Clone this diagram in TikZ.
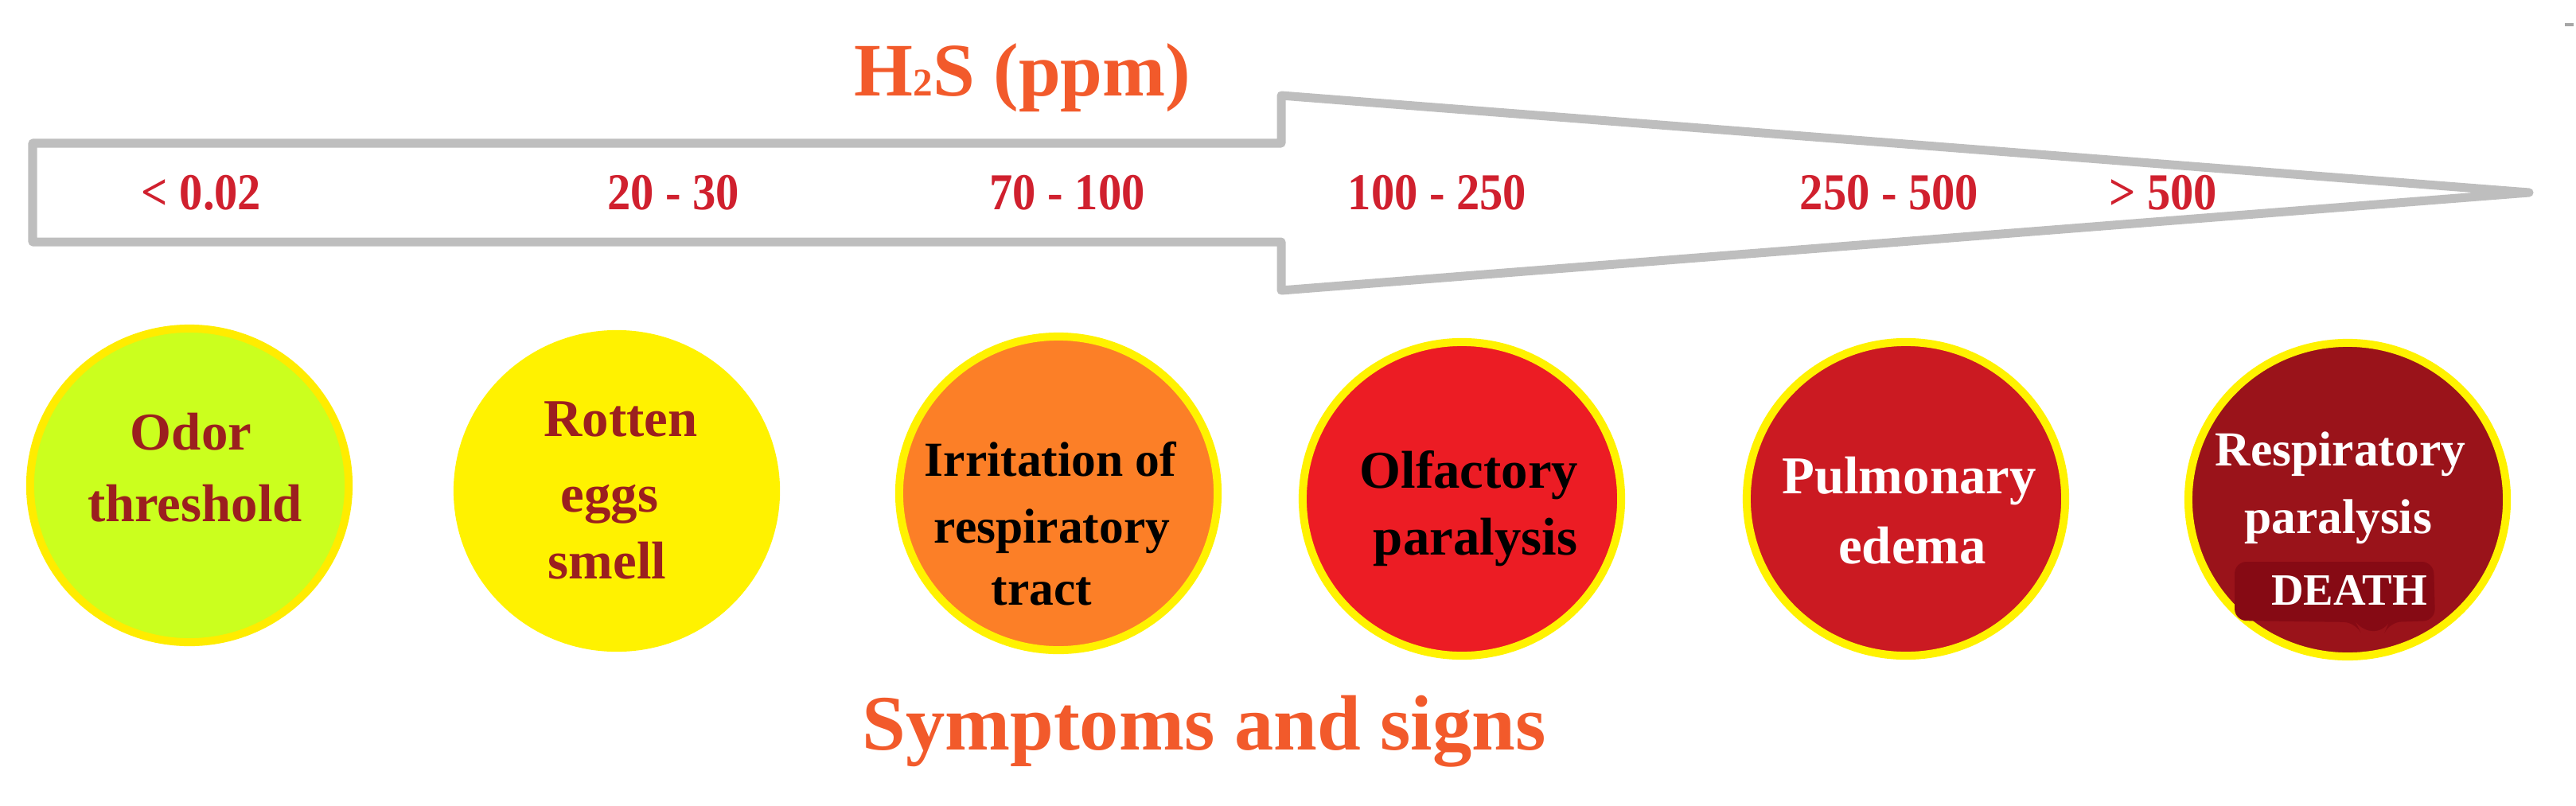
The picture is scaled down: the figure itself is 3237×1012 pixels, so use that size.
\documentclass[tikz,border=0pt]{standalone}
\usepackage{fontspec}
\setmainfont{Liberation Serif}
\newfontfamily\numfont[FakeStretch=0.9]{Liberation Serif}
\usetikzlibrary{shapes.geometric}
\definecolor{arrowgray}{HTML}{BEBEBE}
\definecolor{numred}{HTML}{D0202E}
\definecolor{titleorange}{HTML}{F25A2B}
\definecolor{ringyellow}{HTML}{FFF200}
\definecolor{lime}{HTML}{CBFF1E}
\definecolor{eggyellow}{HTML}{FFF200}
\definecolor{irrorange}{HTML}{FC7F27}
\definecolor{olfred}{HTML}{EC1C24}
\definecolor{pulmred}{HTML}{CB1A22}
\definecolor{respred}{HTML}{9A131A}
\definecolor{deathred}{HTML}{860A14}
\definecolor{darktext}{HTML}{9B1F1F}
\tikzset{
  numlbl/.style={font=\numfont\bfseries\fontsize{18.5}{20}\selectfont, text=numred, anchor=base, inner sep=0pt},
  bigtitle/.style={font=\bfseries\fontsize{28}{30}\selectfont, text=titleorange, anchor=base, inner sep=0pt},
  disc/.style={ellipse, draw=ringyellow, line width=0.1cm, minimum width=4.0cm, minimum height=3.94cm, inner sep=0pt},
  ctext/.style={font=\bfseries\fontsize{19}{22}\selectfont, anchor=base, inner sep=0pt},
  stext/.style={font=\bfseries\fontsize{17.5}{20}\selectfont, anchor=base, inner sep=0pt}
}
\begin{document}
\begin{tikzpicture}[x=0.01cm,y=-0.01cm]
\useasboundingbox (0,0) rectangle (3237,1012);
% big outline arrow
\coordinate (a1) at (41,180);
\coordinate (a2) at (1610,180);
\coordinate (a3) at (1610,120);
\coordinate (tip) at (3178,242);
\coordinate (a5) at (1610,365);
\coordinate (a6) at (1610,304);
\coordinate (a7) at (41,304);
\draw[arrowgray, line width=0.11cm, line join=round, fill=white]
  (a1) -- (a2) -- (a3) -- (tip) -- (a5) -- (a6) -- (a7) -- cycle;
% tiny mark at top right
\coordinate (m1) at (3223,31);
\coordinate (m2) at (3234,31);
\draw[gray!70, line width=0.03cm] (m1) -- (m2);
% title
\node[bigtitle, font=\bfseries\fontsize{27}{30}\selectfont] (title) at (1285,120) {H{\fontsize{14}{15}\selectfont 2}S (ppm)};
% concentrations
\node[numlbl] (n1) at (253,263) {< 0.02};
\node[numlbl] (n2) at (846,263) {20 - 30};
\node[numlbl] (n3) at (1341,263) {70 - 100};
\node[numlbl] (n4) at (1806,263) {100 - 250};
\node[numlbl] (n5) at (2374,263) {250 - 500};
\node[numlbl] (n6) at (2718,263) {> 500};
% discs
\node[disc, draw=ringyellow!95!orange, fill=lime] (c1) at (238,610) {};
\node[disc, draw=eggyellow, fill=eggyellow] (c2) at (775,617) {};
\node[disc, draw=yellow, fill=irrorange] (c3) at (1330,620) {};
\node[disc, draw=yellow, fill=olfred] (c4) at (1837,627) {};
\node[disc, draw=yellow, fill=pulmred] (c5) at (2395,627) {};
\node[disc, draw=yellow, fill=respred] (c6) at (2950,628) {};
% death highlight
\fill[deathred, rounded corners=0.15cm] (2808,706) -- (3058,706) -- (3060,780) -- (3002,782) -- (2997,794) -- (2965,792) -- (2960,782) -- (2808,780) -- cycle;
% disc texts
\node[ctext, text=darktext] (t1a) at (240,565) {Odor};
\node[ctext, text=darktext] (t1b) at (245,655) {threshold};
\node[ctext, text=darktext] (t2a) at (780,548) {Rotten};
\node[ctext, text=darktext] (t2b) at (766,643) {eggs};
\node[ctext, text=darktext] (t2c) at (763,727) {smell};
\node[stext, text=black] (t3a) at (1320,598) {Irritation of};
\node[stext, text=black] (t3b) at (1322,682) {respiratory};
\node[stext, text=black] (t3c) at (1309,760) {tract};
\node[ctext, text=black] (t4a) at (1846,613) {Olfactory};
\node[ctext, text=black] (t4b) at (1854,697) {paralysis};
\node[ctext, text=white] (t5a) at (2399,620) {Pulmonary};
\node[ctext, text=white] (t5b) at (2403,708) {edema};
\node[stext, text=white] (t6a) at (2941,585) {Respiratory};
\node[stext, text=white] (t6b) at (2938,670) {paralysis};
\node[stext, text=white, font=\bfseries\fontsize{16}{18}\selectfont] (t6c) at (2952,760) {DEATH};
% bottom caption
\node[bigtitle] (caption) at (1513,942) {Symptoms and signs};
\end{tikzpicture}
\end{document}
